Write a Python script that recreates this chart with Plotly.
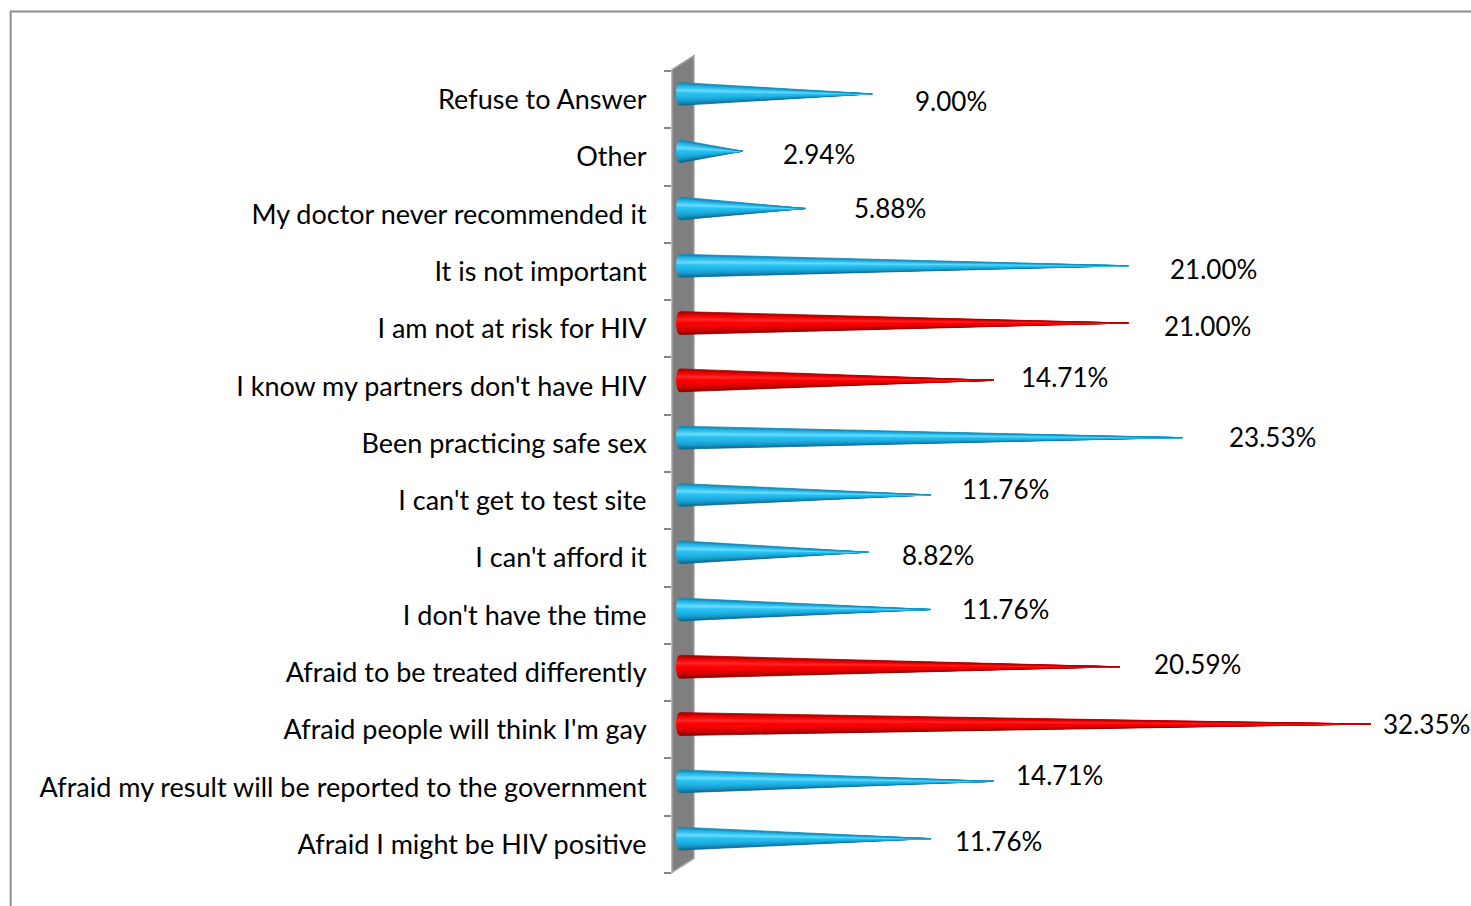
import plotly.graph_objects as go

# ---------------- data ----------------
categories = [
    "Refuse to Answer",
    "Other",
    "My doctor never recommended it",
    "It is not important",
    "I am not at risk for HIV",
    "I know my partners don't have HIV",
    "Been practicing safe sex",
    "I can't get to test site",
    "I can't afford it",
    "I don't have the time",
    "Afraid to be treated differently",
    "Afraid people will think I'm gay",
    "Afraid my result will be reported to the government",
    "Afraid I might be HIV positive",
]
values = [9.00, 2.94, 5.88, 21.00, 21.00, 14.71, 23.53, 11.76, 8.82, 11.76, 20.59, 32.35, 14.71, 11.76]
highlighted = [False, False, False, False, True, True, False, False, False, False, True, True, False, False]

# ---------------- style ----------------
W, H = 1471, 906
PL, PR, PT, PB = 672, 1426.6, 71.4, 872.6   # plot area in pixels
ML, MR, MT, MB = PL, W - PR, PT, H - PB
X_RANGE = [-0.375, 35]
n = len(categories)
FONT = "Lato"
FSIZE = 27

# label nudges in pixels (gap after the cone tip, lift above the row centre)
label_dx = [41, 38, 46, 40, 34, 25, 45, 29, 32, 29, 33, 11, 20, 22]
label_dy = [-1, 3, 6, 3, 3, 9, 6, 12, 3, 6, 9, 6, 12, 3]

HALF = 0.2      # cone half-height (category units)
DY = 0.1        # cone lifted slightly (3D depth)
RX = 0.16       # rounded base cap radius (x units)

blue_stops = [(-1.0, (11, 95, 134)), (-0.7, (21, 147, 196)), (-0.3, (30, 179, 230)),
              (0.1, (39, 195, 243)), (0.35, (111, 220, 255)), (0.55, (60, 201, 247)),
              (0.8, (31, 176, 226)), (1.0, (22, 127, 171))]
red_stops = [(-1.0, (122, 0, 0)), (-0.7, (196, 0, 0)), (-0.3, (240, 0, 0)),
             (0.1, (255, 0, 0)), (0.35, (255, 42, 42)), (0.55, (255, 10, 10)),
             (0.8, (224, 0, 0)), (1.0, (160, 0, 0))]


def interp(stops, t):
    for (t0, c0), (t1, c1) in zip(stops[:-1], stops[1:]):
        if t0 <= t <= t1:
            f = (t - t0) / (t1 - t0)
            return "rgb(%d,%d,%d)" % tuple(round(a + (b - a) * f) for a, b in zip(c0, c1))
    return "rgb(%d,%d,%d)" % stops[-1][1]


NB = 20
ts = [-1 + 2 * k / NB for k in range(NB + 1)]

fig = go.Figure()

for group, stops in ((False, blue_stops), (True, red_stops)):
    idx = [i for i in range(n) if highlighted[i] == group]
    for k in range(NB):
        t0, t1 = ts[k], ts[k + 1]
        col = interp(stops, (t0 + t1) / 2)
        xs, ys = [], []
        for i in idx:
            yc = n - 1 - i + DY
            v = values[i]
            xs += [v, -RX * (1 - t0 ** 2) ** 0.5, -RX * (1 - t1 ** 2) ** 0.5, v, None]
            ys += [yc, yc + t0 * HALF, yc + t1 * HALF, yc, None]
        fig.add_trace(go.Scatter(
            x=xs, y=ys, mode="lines", fill="toself", fillcolor=col,
            line=dict(color=col, width=0.8), hoverinfo="skip", showlegend=False,
        ))

# value labels
for i, v in enumerate(values):
    fig.add_annotation(
        x=v, y=n - 1 - i, text=f"{v:.2f}%", showarrow=False,
        xanchor="left", yanchor="middle", xshift=label_dx[i], yshift=label_dy[i],
        font=dict(family=FONT, size=FSIZE - 1, color="#000000"),
    )

pw = PR - PL
ph = PB - PT


def px_to_paper_x(px):
    return (px - PL) / pw


def px_to_paper_y(py):
    return (PB - py) / ph


# 3D wall
wl, wr = px_to_paper_x(672), px_to_paper_x(694)
fig.add_shape(
    type="path", xref="paper", yref="paper", layer="below",
    path=f"M {wl},{px_to_paper_y(872)} L {wl},{px_to_paper_y(70)} L {wr},{px_to_paper_y(56)} "
         f"L {wr},{px_to_paper_y(858)} Z",
    fillcolor="#7f7f7f", line=dict(color="#a6a6a6", width=1.5),
)

# outer frame
fig.add_shape(
    type="rect", xref="paper", yref="paper",
    x0=px_to_paper_x(11), x1=px_to_paper_x(W + 20),
    y0=px_to_paper_y(H + 20), y1=px_to_paper_y(12),
    line=dict(color="#8c8c8c", width=2), fillcolor="rgba(0,0,0,0)",
)

fig.update_layout(
    width=W, height=H,
    margin=dict(l=ML, r=MR, t=MT, b=MB, pad=0),
    paper_bgcolor="white", plot_bgcolor="white",
    font=dict(family=FONT, size=FSIZE, color="#000000"),
    showlegend=False,
    xaxis=dict(range=X_RANGE, visible=False, fixedrange=True),
    yaxis=dict(
        range=[-0.5, n - 0.5],
        tickmode="array",
        tickvals=list(range(n)),
        ticktext=list(reversed(categories)),
        ticks="outside", ticklen=7, tickcolor="rgba(0,0,0,0)",
        ticklabelstandoff=12,
        showgrid=False, zeroline=False, showline=False,
        minor=dict(tickvals=[k - 0.5 for k in range(n + 1)], ticks="outside",
                   ticklen=7, tickcolor="#868686", tickwidth=1.5, showgrid=False),
        tickfont=dict(family=FONT, size=FSIZE, color="#000000"),
        fixedrange=True,
    ),
)

fig.write_html(
    "out.html",
    config={"displayModeBar": False},
    post_script="document.body.style.margin='0';document.body.style.overflow='hidden';",
)
